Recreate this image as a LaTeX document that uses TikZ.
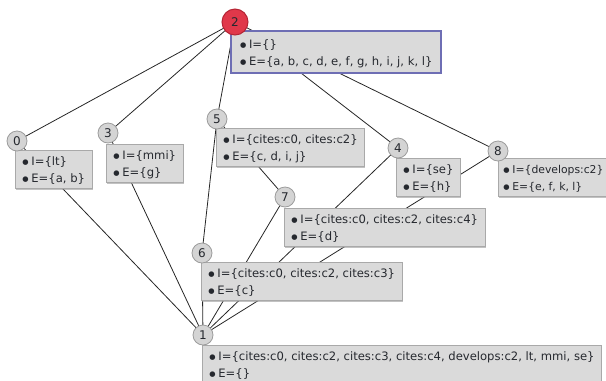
\documentclass[tikz,border=0pt]{standalone}
\usepackage{fontspec}
\setmainfont{DejaVu Sans}
\usetikzlibrary{shadows}
\pgfdeclarelayer{background}
\pgfsetlayers{background,main}

\definecolor{edgecol}{HTML}{262626}
\definecolor{boxfill}{HTML}{DADADA}
\definecolor{boxline}{HTML}{A9A9A9}
\definecolor{circfill}{HTML}{D4D4D4}
\definecolor{circline}{HTML}{9C9C9C}
\definecolor{topfill}{HTML}{E0384A}
\definecolor{topline}{HTML}{B52535}
\definecolor{topframe}{HTML}{6E6EB4}
\definecolor{txt}{HTML}{25282E}

% bullet in front of each line of a concept box
\newcommand\bul{\makebox[9bp][l]{\raisebox{1.1bp}{\fontsize{7.2bp}{8bp}\selectfont ●}}}
% intent / extent lines of a concept
\newcommand\ielines[2]{\rule{0pt}{13bp}\bul I=\{#1\}\\\bul E=\{#2\}\rule[-3bp]{0pt}{3bp}}

\tikzset{
  concept/.style={circle, draw=circline, fill=circfill, line width=0.8bp,
    minimum size=20bp, inner sep=0pt, font=\fontsize{12bp}{13bp}\selectfont, text=txt},
  topconcept/.style={concept, draw=topline, fill=topfill, minimum size=26bp, line width=1bp},
  extent/.style={draw=boxline, fill=boxfill, line width=0.8bp, anchor=north west,
    align=left, inner xsep=7bp, inner ysep=2.5bp,
    font=\fontsize{11.6bp}{17bp}\selectfont, text=txt,
    drop shadow={shadow xshift=0.8bp, shadow yshift=-1.2bp, fill=black!40, opacity=0.6}},
  topextent/.style={extent, draw=topframe, line width=2bp, inner xsep=9bp, inner ysep=4.5bp},
  tightextent/.style={extent, inner xsep=5bp, font=\fontsize{10.8bp}{17bp}\selectfont},
  link/.style={draw=edgecol, line width=0.8bp},
}

\begin{document}
\begin{tikzpicture}[x=1bp, y=-1bp]
\useasboundingbox (0,0) rectangle (606,380);

% concept boxes
\node[topextent] (b2) at (230,30) {\ielines{}{a, b, c, d, e, f, g, h, i, j, k, l}};
\node[extent] (b0) at (15,150) {\ielines{lt}{a, b}};
\node[extent] (b3) at (106,144) {\ielines{mmi}{g}};
\node[extent] (b5) at (216,128) {\ielines{cites:c0, cites:c2}{c, d, i, j}};
\node[extent] (b4) at (396,158) {\ielines{se}{h}};
\node[tightextent] (b8) at (498,158) {\ielines{develops:c2}{e, f, k, l}};
\node[extent] (b7) at (284,208) {\ielines{cites:c0, cites:c2, cites:c4}{d}};
\node[extent] (b6) at (201,262) {\ielines{cites:c0, cites:c2, cites:c3}{c}};
\node[extent] (b1) at (202,345) {\ielines{cites:c0, cites:c2, cites:c3, cites:c4, develops:c2, lt, mmi, se}{}};

% concept markers
\node[topconcept] (c2) at (235,22) {2};
\node[concept] (c0) at (17,141) {0};
\node[concept] (c3) at (108,133) {3};
\node[concept] (c5) at (217,119) {5};
\node[concept] (c4) at (398,148) {4};
\node[concept] (c8) at (498,151) {8};
\node[concept] (c7) at (285,197) {7};
\node[concept] (c6) at (202,253) {6};
\node[concept] (c1) at (203,335) {1};

% lattice edges, under everything else
\begin{pgfonlayer}{background}
  \foreach \a/\b in {c2/c0, c2/c3, c2/c5, c2/c4, c2/c8,
                     c5/c7, c5/c6,
                     c0/c1, c3/c1, c6/c1, c7/c1, c4/c1, c8/c1}
    \draw[link] (\a.center) -- (\b.center);
\end{pgfonlayer}
\end{tikzpicture}
\end{document}
